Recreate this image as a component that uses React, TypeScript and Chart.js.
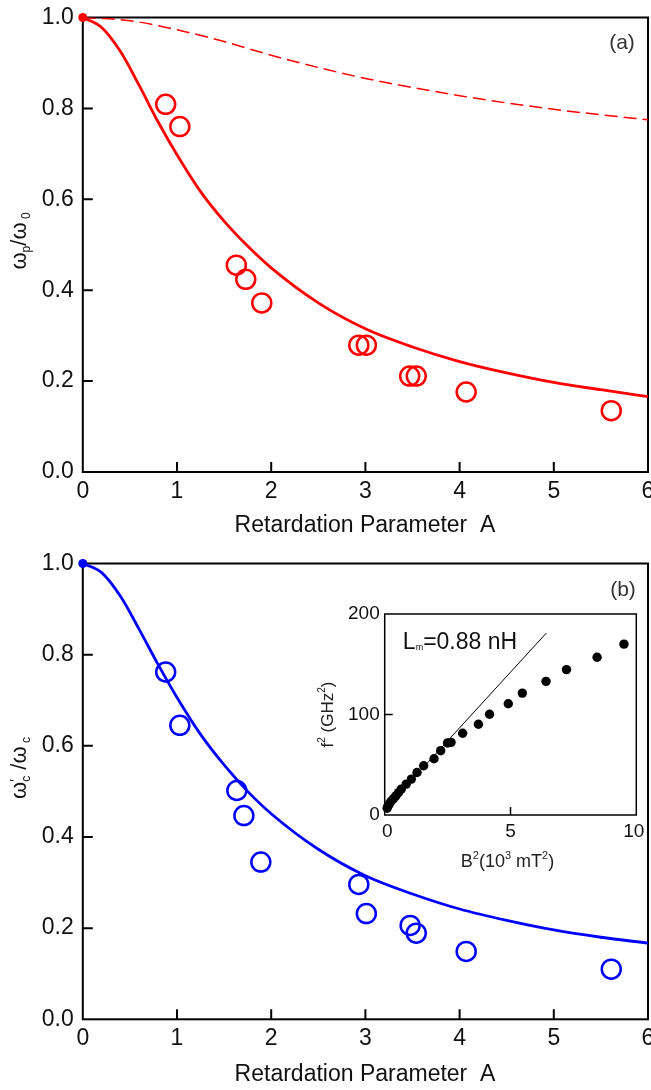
import React, { useEffect, useRef } from "react";
import { Chart, registerables } from "chart.js";

Chart.register(...registerables);

const FAMILY = "'Liberation Sans', Arial, Helvetica, sans-serif";

// ---------- data ----------
const xTicksMain = [0, 1, 2, 3, 4, 5, 6];
const yTicksMain = [0, 0.2, 0.4, 0.6, 0.8, 1.0];

const fitA = [0, 0.2, 0.4, 0.6, 0.8, 1.0, 1.25, 1.5, 1.75, 2.0, 2.5, 3.0, 3.5, 4.0, 4.5, 5.0, 5.5, 6.0];
const fitRed = [1.0, 0.978, 0.925, 0.85, 0.77, 0.698, 0.617, 0.552, 0.497, 0.449, 0.372, 0.315, 0.275, 0.243, 0.218, 0.197, 0.181, 0.166];
const fitBlue = [1.0, 0.98, 0.928, 0.855, 0.778, 0.706, 0.625, 0.558, 0.5, 0.451, 0.373, 0.315, 0.275, 0.242, 0.217, 0.196, 0.18, 0.167];

const dashA = [0, 0.5, 1.0, 1.5, 2.0, 2.5, 3.0, 3.5, 4.0, 4.5, 5.0, 5.5, 6.0];
const dashRed = [1.0, 0.993, 0.973, 0.947, 0.917, 0.89, 0.866, 0.846, 0.828, 0.812, 0.798, 0.786, 0.775];

const redA = [0.88, 1.03, 1.63, 1.73, 1.9, 2.93, 3.01, 3.47, 3.54, 4.07, 5.61];
const redW = [0.809, 0.76, 0.455, 0.424, 0.372, 0.279, 0.279, 0.211, 0.211, 0.176, 0.135];

const blueA = [0.88, 1.03, 1.635, 1.71, 1.89, 2.93, 3.01, 3.475, 3.54, 4.07, 5.61];
const blueW = [0.762, 0.645, 0.502, 0.447, 0.345, 0.296, 0.232, 0.206, 0.189, 0.149, 0.11];

const insetXTicks = [0, 5, 10];
const insetYTicks = [0, 100, 200];
const insetB2 = [0.0, 0.03, 0.09, 0.16, 0.26, 0.35, 0.46, 0.57, 0.77, 0.98, 1.21, 1.48, 1.9, 2.17, 2.45, 2.59, 3.06, 3.7, 4.15, 4.91, 5.48, 6.44, 7.27, 8.51, 9.6];
const insetF2 = [6.7, 9, 11, 13.7, 16.3, 19, 22.3, 25.7, 30.7, 35.7, 42.3, 49, 56, 64, 71.7, 72.3, 81.3, 90.3, 100.3, 110.7, 121.3, 133, 144.7, 157, 170];
const lineB2 = [0, 6.45];
const lineF2 = [8, 181];

// ---------- helpers ----------
type Seg = { t: string; s: number; dy?: number; adv?: boolean };

function rich(ctx: CanvasRenderingContext2D, segs: Seg[], x: number, y: number, rot: number, color: string) {
  ctx.save();
  ctx.translate(x, y);
  ctx.rotate(rot);
  ctx.fillStyle = color;
  ctx.textBaseline = "alphabetic";
  ctx.textAlign = "left";
  let w = 0;
  for (const g of segs) {
    ctx.font = `${g.s}px ${FAMILY}`;
    if (g.adv !== false) w += ctx.measureText(g.t).width;
  }
  let cx = -w / 2;
  for (const g of segs) {
    ctx.font = `${g.s}px ${FAMILY}`;
    ctx.fillText(g.t, cx, g.dy || 0);
    if (g.adv !== false) cx += ctx.measureText(g.t).width;
  }
  ctx.restore();
}

type TextItem = { segs: Seg[]; x: number; y: number; rot?: number; color?: string };

function framePlugin(xt: number[], yt: number[], len: number, lw: number, texts: TextItem[]) {
  return {
    id: "frameTicks",
    beforeDatasetsDraw(chart: any) {
      const { ctx, chartArea: ca, scales } = chart;
      ctx.save();
      ctx.strokeStyle = "#000";
      ctx.lineWidth = lw;
      ctx.strokeRect(ca.left, ca.top, ca.right - ca.left, ca.bottom - ca.top);
      ctx.beginPath();
      for (const v of xt) {
        const px = scales.x.getPixelForValue(v);
        if (px - ca.left < 3 || ca.right - px < 3) continue;
        ctx.moveTo(px, ca.bottom);
        ctx.lineTo(px, ca.bottom - len);
      }
      for (const v of yt) {
        const py = scales.y.getPixelForValue(v);
        if (py - ca.top < 3 || ca.bottom - py < 3) continue;
        ctx.moveTo(ca.left, py);
        ctx.lineTo(ca.left + len, py);
      }
      ctx.stroke();
      ctx.restore();
    },
    afterDraw(chart: any) {
      const { ctx } = chart;
      for (const t of texts) rich(ctx, t.segs, t.x, t.y, t.rot || 0, t.color || "#111");
    },
  };
}

function pts(xs: number[], ys: number[]) {
  return xs.map((x, i) => ({ x, y: ys[i] }));
}

function mainOptions(padTop: number, xHeight: number) {
  return {
    responsive: false,
    animation: false as const,
    devicePixelRatio: 1,
    layout: { autoPadding: false, padding: { top: padTop, right: 3, left: 0, bottom: 0 } },
    plugins: { legend: { display: false }, tooltip: { enabled: false } },
    scales: {
      x: {
        type: "linear" as const,
        min: 0,
        max: 6,
        afterBuildTicks: (s: any) => { s.ticks = xTicksMain.map((v) => ({ value: v })); },
        afterFit: (s: any) => { s.height = xHeight; s.paddingLeft = 0; s.paddingRight = 0; },
        grid: { display: false, drawTicks: false },
        border: { display: false },
        ticks: { padding: 6, font: { size: 23, family: FAMILY }, color: "#111", maxRotation: 0, autoSkip: false },
      },
      y: {
        type: "linear" as const,
        min: 0,
        max: 1,
        afterBuildTicks: (s: any) => { s.ticks = yTicksMain.map((v) => ({ value: v })); },
        afterFit: (s: any) => { s.width = 82.8; s.paddingTop = 0; s.paddingBottom = 0; },
        grid: { display: false, drawTicks: false },
        border: { display: false },
        ticks: { padding: 9, font: { size: 23, family: FAMILY }, color: "#111", callback: (v: any) => Number(v).toFixed(1) },
      },
    },
  };
}

export default function App() {
  const refA = useRef<HTMLCanvasElement>(null);
  const refB = useRef<HTMLCanvasElement>(null);
  const refI = useRef<HTMLCanvasElement>(null);

  useEffect(() => {
    const charts: Chart[] = [];
    const RED = "#ff0000";
    const BLUE = "#0000ff";
    const titleSegs: Seg[] = [{ t: "Retardation Parameter  A", s: 23 }];

    // Panel (a)
    charts.push(
      new Chart(refA.current!, {
        type: "scatter",
        data: {
          datasets: [
            { data: pts(redA, redW), showLine: false, pointRadius: 9.5, pointBorderWidth: 2.5, borderColor: RED, backgroundColor: "rgba(0,0,0,0)", pointBackgroundColor: "rgba(0,0,0,0)" } as any,
            { data: pts(fitA, fitRed), showLine: true, borderColor: RED, borderWidth: 2.8, pointRadius: 0, cubicInterpolationMode: "monotone" } as any,
            { data: pts(dashA, dashRed), showLine: true, borderColor: RED, borderWidth: 1.5, borderDash: [13, 6], pointRadius: 0, cubicInterpolationMode: "monotone" } as any,
            { data: [{ x: 0, y: 1 }], pointRadius: 4.5, pointBorderWidth: 0, backgroundColor: RED, borderColor: RED, clip: false } as any,
          ],
        },
        options: mainOptions(17.5, 73) as any,
        plugins: [
          framePlugin(xTicksMain, yTicksMain, 10, 2, [
            { segs: titleSegs, x: 365, y: 532 },
            { segs: [{ t: "(a)", s: 21 }], x: 622, y: 48.5, color: "#333" },
            {
              segs: [
                { t: "ω", s: 22 },
                { t: "p", s: 12, dy: 4 },
                { t: "/", s: 22 },
                { t: "ω", s: 22 },
                { t: " 0", s: 12, dy: 4 },
              ],
              x: 26,
              y: 241,
              rot: -Math.PI / 2,
            },
          ]),
        ],
      })
    );

    // Panel (b)
    charts.push(
      new Chart(refB.current!, {
        type: "scatter",
        data: {
          datasets: [
            { data: pts(blueA, blueW), showLine: false, pointRadius: 9.5, pointBorderWidth: 2.5, borderColor: BLUE, backgroundColor: "rgba(0,0,0,0)", pointBackgroundColor: "rgba(0,0,0,0)" } as any,
            { data: pts(fitA, fitBlue), showLine: true, borderColor: BLUE, borderWidth: 2.8, pointRadius: 0, cubicInterpolationMode: "monotone" } as any,
            { data: [{ x: 0, y: 1 }], pointRadius: 4.5, pointBorderWidth: 0, backgroundColor: BLUE, borderColor: BLUE, clip: false } as any,
          ],
        },
        options: mainOptions(18.5, 70.7) as any,
        plugins: [
          framePlugin(xTicksMain, yTicksMain, 10, 2, [
            { segs: titleSegs, x: 365, y: 536 },
            { segs: [{ t: "(b)", s: 21 }], x: 623, y: 50.5, color: "#333" },
            {
              segs: [
                { t: "ω", s: 22 },
                { t: "′", s: 14, dy: -6, adv: false },
                { t: "c", s: 12, dy: 4 },
                { t: " /", s: 22 },
                { t: "ω", s: 22 },
                { t: " c", s: 12, dy: 4 },
              ],
              x: 26,
              y: 223,
              rot: -Math.PI / 2,
            },
          ]),
        ],
      })
    );

    // Inset
    charts.push(
      new Chart(refI.current!, {
        type: "scatter",
        data: {
          datasets: [
            { data: pts(insetB2, insetF2), showLine: false, pointRadius: 4.7, pointBorderWidth: 0, backgroundColor: "#000", borderColor: "#000", clip: false } as any,
            { data: pts(lineB2, lineF2), showLine: true, borderColor: "#000", borderWidth: 1, pointRadius: 0 } as any,
          ],
        },
        options: {
          responsive: false,
          animation: false,
          devicePixelRatio: 1,
          layout: { autoPadding: false, padding: { top: 24, right: 14.7, left: 0, bottom: 0 } },
          plugins: { legend: { display: false }, tooltip: { enabled: false } },
          scales: {
            x: {
              type: "linear",
              min: -0.1,
              max: 10.1,
              afterBuildTicks: (s: any) => { s.ticks = insetXTicks.map((v) => ({ value: v })); },
              afterFit: (s: any) => { s.height = 75; s.paddingLeft = 0; s.paddingRight = 0; },
              grid: { display: false, drawTicks: false },
              border: { display: false },
              ticks: { padding: 5, font: { size: 19, family: FAMILY }, color: "#111", maxRotation: 0, autoSkip: false },
            },
            y: {
              type: "linear",
              min: 0,
              max: 200,
              afterBuildTicks: (s: any) => { s.ticks = insetYTicks.map((v) => ({ value: v })); },
              afterFit: (s: any) => { s.width = 84.7; s.paddingTop = 0; s.paddingBottom = 0; },
              grid: { display: false, drawTicks: false },
              border: { display: false },
              ticks: { padding: 5, font: { size: 19, family: FAMILY }, color: "#111" },
            },
          },
        } as any,
        plugins: [
          framePlugin(insetXTicks, insetYTicks, 8, 1.5, [
            {
              segs: [
                { t: "L", s: 23 },
                { t: "m", s: 9, dy: 1 },
                { t: "=0.88 nH", s: 23 },
              ],
              x: 160,
              y: 59.3,
            },
            {
              segs: [
                { t: "B", s: 18 },
                { t: "2", s: 11, dy: -8 },
                { t: "(10", s: 18 },
                { t: "3", s: 11, dy: -8 },
                { t: " mT", s: 18 },
                { t: "2", s: 11, dy: -8 },
                { t: ")", s: 18 },
              ],
              x: 207.5,
              y: 277,
              color: "#222",
            },
            {
              segs: [
                { t: "f", s: 17 },
                { t: "2", s: 10, dy: -8 },
                { t: " (GHz", s: 17 },
                { t: "2", s: 10, dy: -8 },
                { t: ")", s: 17 },
              ],
              x: 33,
              y: 124.5,
              rot: -Math.PI / 2,
              color: "#222",
            },
          ]),
        ],
      })
    );

    return () => charts.forEach((c) => c.destroy());
  }, []);

  return (
    <div style={{ position: "absolute", left: 0, top: 0, width: 651, height: 1090, background: "#fff", overflow: "hidden" }}>
      <canvas ref={refA} width={651} height={545} style={{ position: "absolute", left: 0, top: 0 }} />
      <canvas ref={refB} width={651} height={545} style={{ position: "absolute", left: 0, top: 545 }} />
      <canvas ref={refI} width={351} height={300} style={{ position: "absolute", left: 300, top: 590 }} />
    </div>
  );
}
